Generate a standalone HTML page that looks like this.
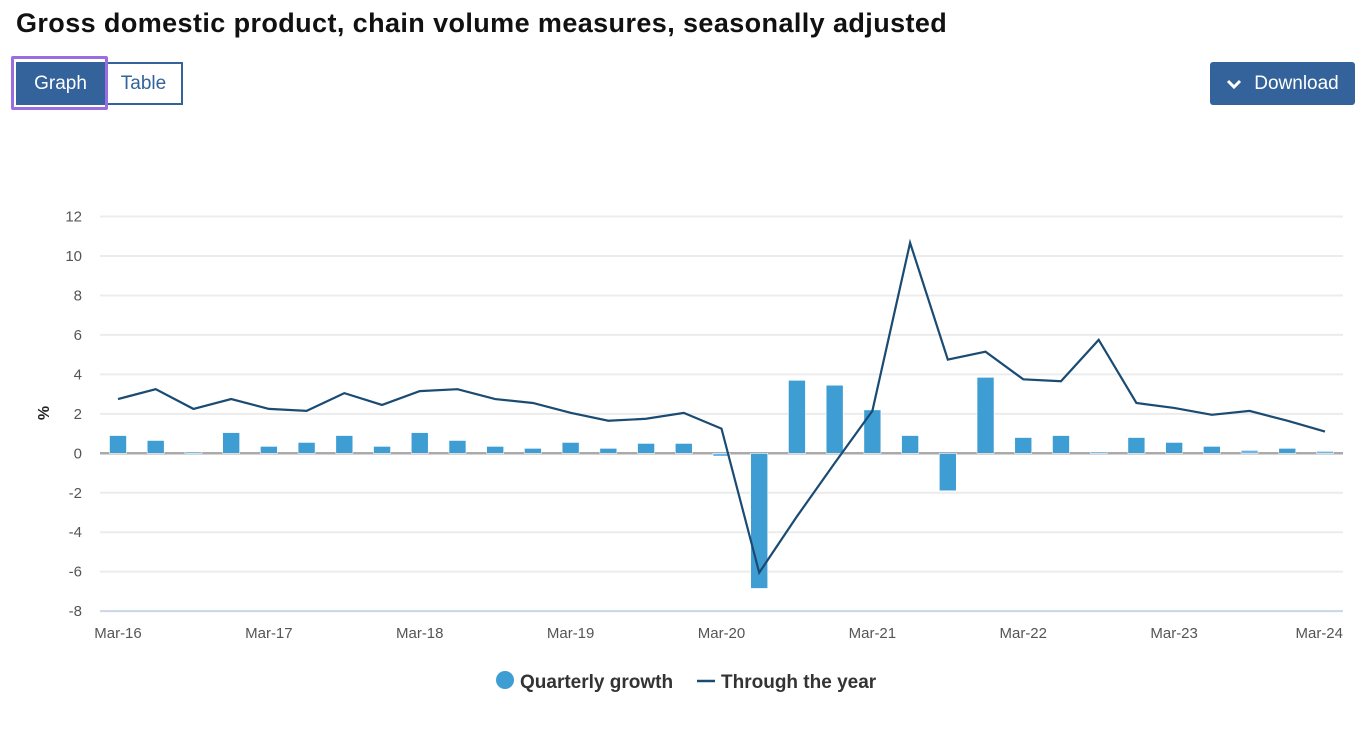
<!DOCTYPE html>
<html><head><meta charset="utf-8"><style>
body{margin:0;background:#fff;font-family:"Liberation Sans",sans-serif;width:1370px;height:729px;overflow:hidden;position:relative}
h1{position:absolute;left:16px;top:8px;margin:0;font-size:27px;font-weight:bold;color:#111;letter-spacing:0.4px}
.btn{position:absolute;box-sizing:border-box;font-size:19px;display:flex;align-items:center;justify-content:center}
</style></head><body>
<h1>Gross domestic product, chain volume measures, seasonally adjusted</h1>
<div class="btn" style="left:104px;top:62px;width:79px;height:43px;border:2px solid #33639a;color:#33639a;background:#fff">Table</div>
<div style="position:absolute;left:11px;top:56px;width:97px;height:54px;box-sizing:border-box;border:3px solid #9b6de3;border-radius:2px"></div>
<div class="btn" style="left:16px;top:62px;width:89px;height:43px;background:#33639a;color:#fff">Graph</div>
<div class="btn" style="left:1210px;top:62px;width:145px;height:43px;background:#33639a;color:#fff;border-radius:3px"><svg width="16" height="12" style="margin-right:12px"><path d="M2 3 L8 9 L14 3" stroke="#fff" stroke-width="3" fill="none"/></svg>Download</div>
<svg id="chart" width="1370" height="729" style="position:absolute;left:0;top:0"></svg>
<script>
const categories=["Mar-16","Jun-16","Sep-16","Dec-16","Mar-17","Jun-17","Sep-17","Dec-17","Mar-18","Jun-18","Sep-18","Dec-18","Mar-19","Jun-19","Sep-19","Dec-19","Mar-20","Jun-20","Sep-20","Dec-20","Mar-21","Jun-21","Sep-21","Dec-21","Mar-22","Jun-22","Sep-22","Dec-22","Mar-23","Jun-23","Sep-23","Dec-23","Mar-24"];
const quarterly=[0.9,0.65,0,1.05,0.35,0.55,0.9,0.35,1.05,0.65,0.35,0.25,0.55,0.25,0.5,0.5,-0.15,-6.85,3.7,3.45,2.2,0.9,-1.9,3.85,0.8,0.9,0.05,0.8,0.55,0.35,0.15,0.25,0.1];
const throughYear=[2.75,3.25,2.25,2.75,2.25,2.15,3.05,2.45,3.15,3.25,2.75,2.55,2.05,1.65,1.75,2.05,1.25,-6.05,-3.2,-0.5,2.15,10.67,4.75,5.15,3.75,3.65,5.75,2.55,2.3,1.95,2.15,1.65,1.1];
const yTicks=[12,10,8,6,4,2,0,-2,-4,-6,-8];
const xLabels=["Mar-16","Mar-17","Mar-18","Mar-19","Mar-20","Mar-21","Mar-22","Mar-23","Mar-24"];
const svg=document.getElementById('chart');const NS='http://www.w3.org/2000/svg';
function el(t,a,p){const e=document.createElementNS(NS,t);for(const k in a)e.setAttribute(k,a[k]);(p||svg).appendChild(e);return e;}
const y=v=>453.3-v*19.73;
const x=i=>118+i*(1325-118)/32;
const L=100,R=1343;
yTicks.forEach(t=>{
 const g=el('line',{x1:L,x2:R,y1:y(t),y2:y(t),stroke:t==-8?'#c8d6ea':'#ececec','stroke-width':2});
 
 
 const tx=el('text',{x:82,y:y(t)+5,'text-anchor':'end','font-size':15,fill:'#555'});tx.textContent=t;
 
 
});
const zl=el('line',{x1:L,x2:R,y1:y(0),y2:y(0),stroke:'#aaa','stroke-width':2.5});


const yt=el('text',{x:0,y:0,transform:'translate(49,413) rotate(-90)','text-anchor':'middle','font-size':16,'font-weight':'bold',fill:'#222'});yt.textContent='%';


xLabels.forEach((lab,k)=>{
 const i=categories.indexOf(lab);
 const last=k==xLabels.length-1;
 const t=el('text',{x:last?R:x(i),y:638,'text-anchor':last?'end':'middle','font-size':15,fill:'#555'});t.textContent=lab;
 
 
});
quarterly.forEach((v,i)=>{
 const h=Math.max(Math.abs(y(v)-y(0)),1.5);
 const r=el('rect',{x:x(i)-8.5,y:v>=0?y(0)-h:y(0),width:17,height:h,fill:Math.abs(v)<0.2?'#6cb6e3':'#3e9dd3',stroke:'#fff','stroke-width':0.6});
 
 
});
const p=el('polyline',{points:throughYear.map((v,i)=>x(i)+','+y(v)).join(' '),fill:'none',stroke:'#1a4b73','stroke-width':2.2,'stroke-linejoin':'miter'});


const c=el('circle',{cx:505,cy:680,r:9,fill:'#3e9dd3'});


const t1=el('text',{x:520,y:688,'font-size':19,'font-weight':'bold',fill:'#333'});t1.textContent='Quarterly growth';


const ll=el('line',{x1:697,x2:715,y1:681,y2:681,stroke:'#1a4b73','stroke-width':2.5});


const t2=el('text',{x:721,y:688,'font-size':19,'font-weight':'bold',fill:'#333'});t2.textContent='Through the year';


</script>
</body></html>
